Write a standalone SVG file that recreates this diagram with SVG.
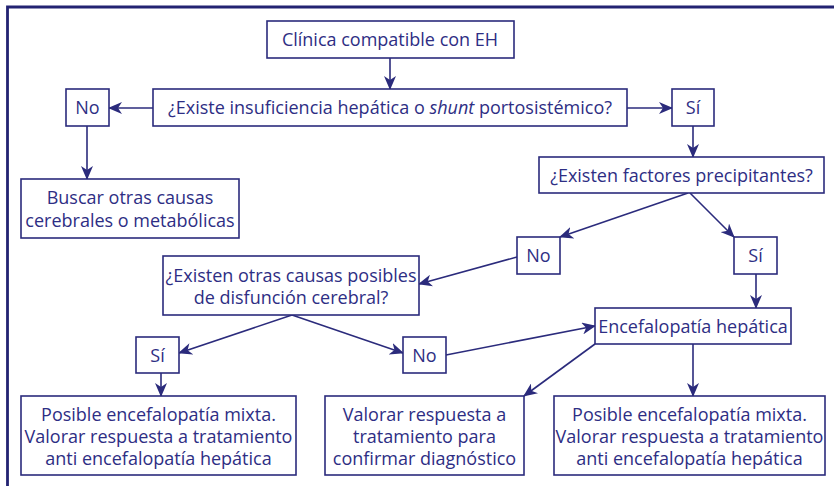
<svg xmlns="http://www.w3.org/2000/svg" width="834" height="486" viewBox="0 0 834 486">
<defs>
<style>
.bx{fill:#fff;stroke:#2b2b7c;stroke-width:1.6}
.ln{fill:none;stroke:#2b2b7c;stroke-width:1.6;marker-end:url(#ah)}
text{font-family:"Open Sans","Noto Sans","Liberation Sans",sans-serif;font-size:18px;fill:#2e2e84;text-anchor:middle;dominant-baseline:central}
</style>
<marker id="ah" viewBox="0 0 14 12" refX="13" refY="6" markerWidth="14" markerHeight="12" markerUnits="userSpaceOnUse" orient="auto">
<path d="M0,0 L14,6 L0,12 L4,6 z" fill="#2b2b7c"/>
</marker>
</defs>
<rect width="834" height="486" fill="#fff"/>
<path d="M7.5,486 V7 H834" fill="none" stroke="#232372" stroke-width="2.8"/>
<g id="connectors">
<line class="ln" x1="390" y1="58" x2="390" y2="89"/>
<line class="ln" x1="153" y1="108" x2="109" y2="108"/>
<line class="ln" x1="627" y1="108" x2="672" y2="108"/>
<line class="ln" x1="87" y1="126" x2="87" y2="179"/>
<line class="ln" x1="693" y1="126" x2="693" y2="157"/>
<line class="ln" x1="688" y1="193" x2="560" y2="237"/>
<line class="ln" x1="690" y1="193" x2="734" y2="237"/>
<line class="ln" x1="517" y1="257" x2="419" y2="284"/>
<line class="ln" x1="756" y1="274" x2="756" y2="308"/>
<line class="ln" x1="292" y1="315" x2="179" y2="353"/>
<line class="ln" x1="292" y1="315" x2="403" y2="353"/>
<line class="ln" x1="446" y1="355" x2="595" y2="326"/>
<line class="ln" x1="161" y1="373" x2="161" y2="396"/>
<line class="ln" x1="595" y1="344" x2="524" y2="396"/>
<line class="ln" x1="693" y1="344" x2="693" y2="396"/>
</g>
<g id="n-clinica"><rect class="bx" x="267" y="21" width="247" height="37"/><text x="390" y="39">Clínica compatible con EH</text></g>
<g id="n-q1"><rect class="bx" x="153" y="89" width="474" height="37"/><text x="390" y="107">¿Existe insuficiencia hepática o <tspan font-style="italic">shunt</tspan> portosistémico?</text></g>
<g id="n-no1"><rect class="bx" x="66" y="89" width="43" height="37"/><text x="87.5" y="107">No</text></g>
<g id="n-si1"><rect class="bx" x="672" y="89" width="42" height="37"/><text x="693" y="107">Sí</text></g>
<g id="n-buscar"><rect class="bx" x="21" y="179" width="218" height="59"/><text x="130" y="197">Buscar otras causas</text><text x="130" y="219.5">cerebrales o metabólicas</text></g>
<g id="n-factores"><rect class="bx" x="539" y="157" width="285" height="36"/><text x="681.5" y="174.5">¿Existen factores precipitantes?</text></g>
<g id="n-no2"><rect class="bx" x="517" y="237" width="43" height="37"/><text x="538.5" y="255">No</text></g>
<g id="n-si2"><rect class="bx" x="734" y="237" width="43" height="37"/><text x="755.5" y="255">Sí</text></g>
<g id="n-otras"><rect class="bx" x="163" y="256" width="256" height="59"/><text x="291" y="274.5">¿Existen otras causas posibles</text><text x="291" y="297">de disfunción cerebral?</text></g>
<g id="n-eh"><rect class="bx" x="595" y="308" width="196" height="36"/><text x="693" y="325.5">Encefalopatía hepática</text></g>
<g id="n-si3"><rect class="bx" x="136" y="337" width="43" height="36"/><text x="157.5" y="354.5">Sí</text></g>
<g id="n-no3"><rect class="bx" x="403" y="337" width="43" height="36"/><text x="424.5" y="354.5">No</text></g>
<g id="n-mixta1"><rect class="bx" x="21" y="396" width="275" height="79"/><text x="158.5" y="414">Posible encefalopatía mixta.</text><text x="158.5" y="436">Valorar respuesta a tratamiento</text><text x="158.5" y="458">anti encefalopatía hepática</text></g>
<g id="n-valorar"><rect class="bx" x="325" y="396" width="199" height="79"/><text x="424.5" y="414">Valorar respuesta a</text><text x="424.5" y="436">tratamiento para</text><text x="424.5" y="458">confirmar diagnóstico</text></g>
<g id="n-mixta2"><rect class="bx" x="554" y="396" width="271" height="79"/><text x="689.5" y="414">Posible encefalopatía mixta.</text><text x="689.5" y="436">Valorar respuesta a tratamiento</text><text x="689.5" y="458">anti encefalopatía hepática</text></g>
</svg>
